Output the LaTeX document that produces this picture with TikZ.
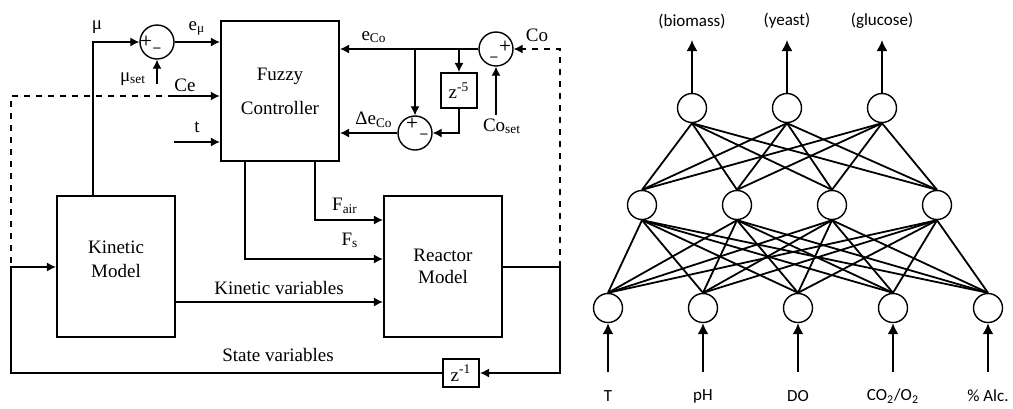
\documentclass[tikz,border=0pt]{standalone}
\usepackage{fontspec}
\setmainfont{Liberation Serif}
\newfontfamily\nnfont{Carlito}
\usetikzlibrary{arrows.meta}
\tikzset{
  blk/.style={draw,line width=1.1pt,minimum width=59pt,minimum height=70.5pt,inner sep=0pt,align=center},
  dly/.style={draw,line width=1.1pt,inner sep=0pt,minimum width=18pt},
  sumc/.style={draw,circle,line width=0.7pt,minimum size=17pt,inner sep=0pt},
  sig/.style={line width=0.6pt,-{Latex[length=4.5pt,width=4.5pt]}},
  sgn/.style={font=\sffamily\bfseries\scriptsize,inner sep=0pt},
  neu/.style={draw,circle,line width=0.7pt,minimum size=14.5pt,inner sep=0pt},
  syn/.style={line width=0.9pt},
  io/.style={line width=0.9pt,-{Latex[length=5.5pt,width=5.5pt]}},
  nnlab/.style={font=\nnfont\fontsize{8.5}{10}\selectfont}
}
\begin{document}
\begin{tikzpicture}[x=0.5pt,y=-0.5pt,font=\fontsize{9.5}{11}\selectfont]
\useasboundingbox (0,0) rectangle (1013,408);
% control loop
\node[blk,minimum height=70pt] (fuzzy) at (280,91) {Fuzzy\\[6pt]Controller};
\node[blk] (kin) at (116,266.5) {};
\node[align=center] (kintxt) at (116,259) {Kinetic\\[1pt]Model};
\node[blk] (reactor) at (443,266.5) {Reactor\\Model};
\node[dly,minimum height=17.5pt] (z5) at (459,90.5) {z\textsuperscript{-5}};
\node[dly,minimum height=14pt] (z1) at (461,373) {z\textsuperscript{-1}};
\node[sumc] (s1) at (157,42) {}; \node[sgn] at (146,41) {+}; \node[sgn] at (157,50) {--};
\node[sumc] (s2) at (496,49) {}; \node[sgn] at (505,46) {+}; \node[sgn] at (494,59) {--};
\node[sumc] (s3) at (415,133) {}; \node[sgn] at (412,123) {+}; \node[sgn] at (424,136) {--};
\coordinate (mu) at (93,42); \coordinate (muset) at (157,84);
\coordinate (ce) at (174,96); \coordinate (cel) at (11,96); \coordinate (fb) at (11,267);
\coordinate (tin) at (174,142);
\coordinate (fs) at (245,259); \coordinate (fa) at (315,220); \coordinate (kv) at (280,302);
\coordinate (rout) at (560,267); \coordinate (b1) at (415,49); \coordinate (b2) at (459,49);
\coordinate (coset) at (496,115);
\draw[sig] (mu |- kin.north) -- (mu) -- (s1.west);
\draw[sig] (muset) -- (s1.south);
\draw[sig] (s1.east) -- (s1.east -| fuzzy.west);
\draw[sig,line width=1.4pt] (ce) -- (ce -| fuzzy.west);
\draw[line width=0.6pt,dashed] (ce) -- (cel) -- (fb);
\draw[sig] (tin) -- (tin -| fuzzy.west);
\draw[sig] (fs |- fuzzy.south) -- (fs) -- (fs -| reactor.west);
\draw[sig] (fa |- fuzzy.south) -- (fa) -- (fa -| reactor.west);
\draw[sig] (kv -| kin.east) -- (kv -| reactor.west);
\draw[line width=0.6pt] (rout -| reactor.east) -- (rout);
\draw[sig] (rout) |- (z1.east);
\draw[sig] (z1.west) -| (fb) -- (fb -| kin.west);
\draw[sig,dashed] (rout) -- (rout |- s2) -- (s2.east);
\draw[sig] (s2.west) -- (s2.west -| fuzzy.east);
\draw[sig] (b1) -- (s3.north);
\draw[sig] (b2) -- (z5.north);
\draw[sig] (z5.south) |- (s3.east);
\draw[sig] (coset) -- (s2.south);
\draw[sig] (s3.west) -- (s3.west -| fuzzy.east);
\node (lmu) at (97,27) {μ};
\node (lmuset) at (133,79) {μ\textsubscript{set}};
\node (lemu) at (197,28) {e\textsubscript{μ}};
\node (lce) at (185,85) {Ce};
\node (lt) at (197,127) {t};
\node (leco) at (374,37) {e\textsubscript{Co}};
\node (lco) at (537,35) {Co};
\node (ldeco) at (374,120) {Δe\textsubscript{Co}};
\node (lcoset) at (502,126) {Co\textsubscript{set}};
\node (lfair) at (345,206) {F\textsubscript{air}};
\node (lfs) at (350,240) {F\textsubscript{s}};
\node (lkv) at (279,288) {Kinetic variables};
\node (lsv) at (278,355) {State variables};
% neural network
\foreach \n/\x in {1/692,2/787,3/882} \node[neu] (o\n) at (\x,108) {};
\foreach \n/\x in {1/642,2/737,3/832,4/937} \node[neu] (h\n) at (\x,205) {};
\foreach \n/\x in {1/608,2/703,3/798,4/893,5/988} \node[neu] (i\n) at (\x,308) {};
\foreach \a in {1,2,3} \foreach \b in {1,...,4} \draw[syn] (o\a.south) -- (h\b.north);
\foreach \a in {1,...,4} \foreach \b in {1,...,5} \draw[syn] (h\a.south) -- (i\b.north);
\coordinate (otop) at (0,40); \coordinate (ibot) at (0,372);
\foreach \n/\t in {1/{(biomass)},2/{(yeast)},3/{(glucose)}} {
  \draw[io] (o\n.north) -- (o\n.north |- otop);
  \node[nnlab] (ol\n) at (o\n |- 0,21) {\t};
}
\foreach \n/\t in {1/T,2/pH,3/DO,4/{CO\textsubscript{2}/O\textsubscript{2}},5/{\% Alc.}} {
  \draw[io] (i\n.south |- ibot) -- (i\n.south);
  \node[nnlab] (il\n) at (i\n |- 0,396) {\t};
}
\end{tikzpicture}
\end{document}
